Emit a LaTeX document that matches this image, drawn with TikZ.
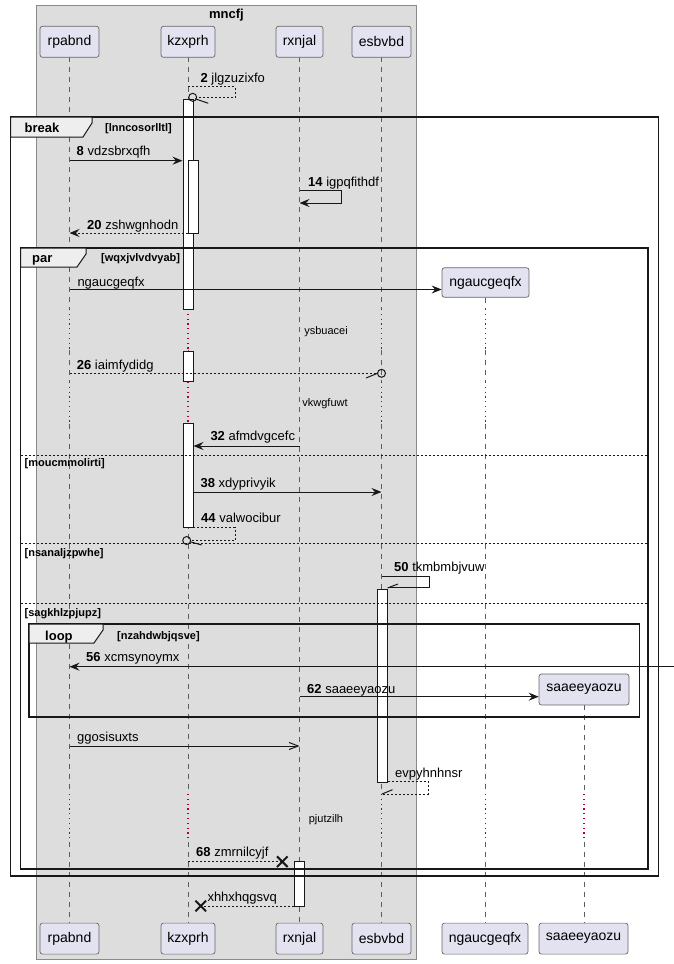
\documentclass[tikz,border=0pt]{standalone}
\usepackage{fontspec}
\setmainfont{Liberation Sans}
\usetikzlibrary{arrows.meta,calc}
\definecolor{grpfill}{HTML}{DDDDDD}
\definecolor{grpline}{HTML}{8A8A8A}
\definecolor{partfill}{HTML}{E2E2F0}
\definecolor{partline}{HTML}{666666}
\definecolor{ink}{HTML}{181818}
\definecolor{delayred}{HTML}{B0003C}
\definecolor{tabfill}{HTML}{EEEEEE}

% lifeline pieces: plain dashed and delay-dotted
\newcommand\lifeseg[3]{\draw[life] (#1,#2) -- (#1,#3);}
\newcommand\delayseg[3]{\draw[delayln] (#1,#2) -- (#1,#3);}

\begin{document}
\begin{tikzpicture}[x=1pt,y=-1pt,
  part/.style={draw=partline, line width=0.7pt, fill=partfill, rounded corners=2.5pt,
    inner sep=0pt, minimum height=31pt, font=\fontsize{14}{16}\selectfont},
  life/.style={draw=ink!70, line width=0.6pt, dash pattern=on 5pt off 5pt},
  delayln/.style={draw=delayred, line width=1.2pt, dash pattern=on 1.2pt off 3.6pt},
  act/.style={draw=ink, line width=1pt, fill=white},
  msg/.style={draw=ink, line width=1pt},
  ret/.style={draw=ink, line width=1pt, dash pattern=on 2pt off 2pt},
  head/.style={-{Stealth[length=10pt,width=8pt,inset=3.5pt]}},
  openhead/.style={-{Straight Barb[length=9pt,width=7pt]}},
  frm/.style={draw=ink, line width=1.6pt},
  tabshape/.style={draw=ink, line width=1pt, fill=tabfill},
  sep/.style={draw=ink, line width=1pt, dash pattern=on 2pt off 2pt},
  lbl/.style={anchor=base west, inner sep=0pt, font=\fontsize{13}{15}\selectfont},
  ftitle/.style={anchor=base west, inner sep=0pt, font=\fontsize{13}{15}\selectfont\bfseries},
  cond/.style={anchor=base west, inner sep=0pt, font=\fontsize{11}{13}\selectfont\bfseries},
  dly/.style={anchor=base, inner sep=0pt, font=\fontsize{11}{13}\selectfont},
  ring/.style={draw=ink, line width=1pt},
  cross/.style={draw=ink, line width=2pt}
]
\useasboundingbox (0,0) rectangle (674,964);
\fill[white] (0,0) rectangle (674,964);

% participant group box
\draw[fill=grpfill, draw=grpline, line width=1pt] (36.5,5.7) rectangle (416.5,959);
\node[inner sep=0pt, font=\fontsize{13}{15}\selectfont\bfseries] (grp) at (226.5,15.5) {mncfj};

% lifelines with the three delays
\foreach \lx in {69.5,188,381.5}{
  \lifeseg{\lx}{57.3}{309}
  \delayseg{\lx}{309}{350}
  \lifeseg{\lx}{350}{382}
  \delayseg{\lx}{382}{423.5}
  \lifeseg{\lx}{423.5}{794}
  \delayseg{\lx}{794}{842}
  \lifeseg{\lx}{842}{923.3}
}
\lifeseg{299.5}{57.3}{923.3}
\lifeseg{485.5}{297.5}{309}
\delayseg{485.5}{309}{350}
\lifeseg{485.5}{350}{382}
\delayseg{485.5}{382}{423.5}
\lifeseg{485.5}{423.5}{794}
\delayseg{485.5}{794}{842}
\lifeseg{485.5}{842}{923.3}
\lifeseg{584}{705}{794}
\delayseg{584}{794}{842}
\lifeseg{584}{842}{923.3}

% activation bars
\node[act, minimum width=10pt, minimum height=209.7pt, inner sep=0pt] (a1) at (188,204.15) {};
\node[act, minimum width=10pt, minimum height=72.3pt, inner sep=0pt] (a2) at (193,196.85) {};
\node[act, minimum width=10pt, minimum height=30.7pt, inner sep=0pt] (a3) at (188,366.35) {};
\node[act, minimum width=10pt, minimum height=104pt, inner sep=0pt] (a4) at (188,475.3) {};
\node[act, minimum width=10pt, minimum height=193pt, inner sep=0pt] (a5) at (382,685.5) {};
\node[act, minimum width=10pt, minimum height=44.3pt, inner sep=0pt] (a6) at (299.5,883.85) {};

% combined fragments
\draw[frm] (10.5,117) rectangle (658.5,876);
\draw[tabshape] (10.5,117) -- (92,117) -- (92,123) -- (83,137) -- (10.5,137) -- cycle;
\node[ftitle] (fbreak) at (24.5,132.5) {break};
\node[cond] (cbreak) at (105,131.5) {[lnncosorlltl]};

\draw[frm] (20.6,248) rectangle (648,869);
\draw[tabshape] (20.6,248) -- (86,248) -- (86,254) -- (77,267) -- (20.6,267) -- cycle;
\node[ftitle] (fpar) at (32,262.5) {par};
\node[cond] (cpar) at (101,261.5) {[wqxjvlvdvyab]};
\draw[sep] (20.6,455) -- (648,455);
\node[cond] (c2) at (24.5,466.5) {[moucmmolirti]};
\draw[sep] (20.6,543.5) -- (648,543.5);
\node[cond] (c3) at (24.5,556) {[nsanaljzpwhe]};
\draw[sep] (20.6,603) -- (648,603);
\node[cond] (c4) at (24.5,616) {[sagkhlzpjupz]};

\draw[frm] (29,624) rectangle (639.5,716.7);
\draw[tabshape] (29,624) -- (103,624) -- (103,630) -- (94,643) -- (29,643) -- cycle;
\node[ftitle] (floop) at (45,640.5) {loop};
\node[cond] (cloop) at (117,639.5) {[nzahdwbjqsve]};

% participants
\node[part, minimum width=59pt] (pA) at (69.5,41.8) {rpabnd};
\node[part, minimum width=54pt] (pB) at (188,41.8) {kzxprh};
\node[part, minimum width=47pt] (pC) at (299.5,41.8) {rxnjal};
\node[part, minimum width=59pt] (pD) at (381.5,41.8) {esbvbd};
\node[part, minimum width=87pt, minimum height=29.5pt] (pE) at (485.5,282.5) {ngaucgeqfx};
\node[part, minimum width=90pt] (pF) at (584,689.5) {saaeeyaozu};
\node[part, minimum width=59pt] (qA) at (69.5,938.6) {rpabnd};
\node[part, minimum width=54pt] (qB) at (188,938.6) {kzxprh};
\node[part, minimum width=47pt] (qC) at (299.5,938.6) {rxnjal};
\node[part, minimum width=59pt] (qD) at (381.5,938.6) {esbvbd};
\node[part, minimum width=86pt] (qE) at (485,938.6) {ngaucgeqfx};
\node[part, minimum width=89pt] (qF) at (583.5,938.6) {saaeeyaozu};

% messages
\draw[ret] (188,86.7) -- (235,86.7) -- (235,97.3) -- (196.7,97.3);
\draw[ring] (192.7,97.3) circle (4);
\draw[msg] (195,98.7) -- (208.3,103.3);
\node[lbl] (l2) at (200.4,82.5) {\textbf{2}\ jlgzuzixfo};

\draw[msg, head] (69.5,160.7) -- (a1.west |- 0,160.7);
\node[lbl] (l8) at (76.5,155.2) {\textbf{8}\ vdzsbrxqfh};

\draw[msg, head] (299.5,190) -- (341,190) -- (341,203) -- (299.5,203);
\node[lbl] (l14) at (308,186.2) {\textbf{14}\ igpqfithdf};

\draw[ret, head] (a2.west |- 0,233) -- (69.5,233);
\node[lbl] (l20) at (87,229.5) {\textbf{20}\ zshwgnhodn};

\draw[msg, head] (69.5,289.5) -- (pE.west |- 0,289.5);
\node[lbl] (lng) at (77.3,286) {ngaucgeqfx};

\node[dly] (d1) at (326,334.7) {ysbuacei};

\draw[ret] (69.5,373.3) -- (377.5,373.3);
\draw[ring] (381.5,373.3) circle (4);
\draw[msg] (377.5,373.3) -- (366,378);
\node[lbl] (l26) at (76.7,369.5) {\textbf{26}\ iaimfydidg};

\node[dly] (d2) at (325,406) {vkwgfuwt};

\draw[msg, head] (299.5,446) -- (a4.east |- 0,446);
\node[lbl] (l32) at (210.3,440.5) {\textbf{32}\ afmdvgcefc};

\draw[msg, head] (a4.east |- 0,492) -- (381.5,492);
\node[lbl] (l38) at (200.4,487.5) {\textbf{38}\ xdyprivyik};

\draw[ret] (193.3,527.3) -- (235,527.3) -- (235,540.5) -- (190.7,540.5);
\draw[ring] (186.7,540.5) circle (4);
\draw[msg] (190,541.7) -- (201.7,545);
\node[lbl] (l44) at (201,522.5) {\textbf{44}\ valwocibur};

\draw[msg] (381.5,576.7) -- (429.3,576.7) -- (429.3,587) -- (387.5,587);
\draw[msg] (387.5,588) -- (398,584);
\node[lbl] (l50) at (394,571.2) {\textbf{50}\ tkmbmbjvuw};

\coordinate (edgeR) at (674,666.7);
\draw[msg, head] (edgeR) -- (69.5,666.7);
\node[lbl] (l56) at (86,661.2) {\textbf{56}\ xcmsynoymx};

\draw[msg, head] (299.5,696.7) -- (pF.west |- 0,696.7);
\node[lbl] (l62) at (307,693.5) {\textbf{62}\ saaeeyaozu};

\draw[msg, openhead] (69.5,746) -- (299.5,746);
\node[lbl] (lgg) at (77,741.2) {ggosisuxts};

\draw[ret] (a5.east |- 0,781.7) -- (428,781.7) -- (428,794) -- (382,794);
\draw[msg] (382,794) -- (392.5,789.7);
\node[lbl] (lev) at (395,777.5) {evpyhnhnsr};

\node[dly] (d3) at (326,822) {pjutzilh};

\draw[ret] (188,861.7) -- (282.3,861.7);
\draw[cross] (277,856.4) -- (287.6,867) (277,867) -- (287.6,856.4);
\node[lbl] (l68) at (196,856.5) {\textbf{68}\ zmrnilcyjf};

\draw[ret] (a6.west |- 0,906) -- (200.7,906);
\draw[cross] (195.4,900.7) -- (206,911.3) (195.4,911.3) -- (206,900.7);
\node[lbl] (lxh) at (207.3,901.8) {xhhxhqgsvq};

\end{tikzpicture}
\end{document}
